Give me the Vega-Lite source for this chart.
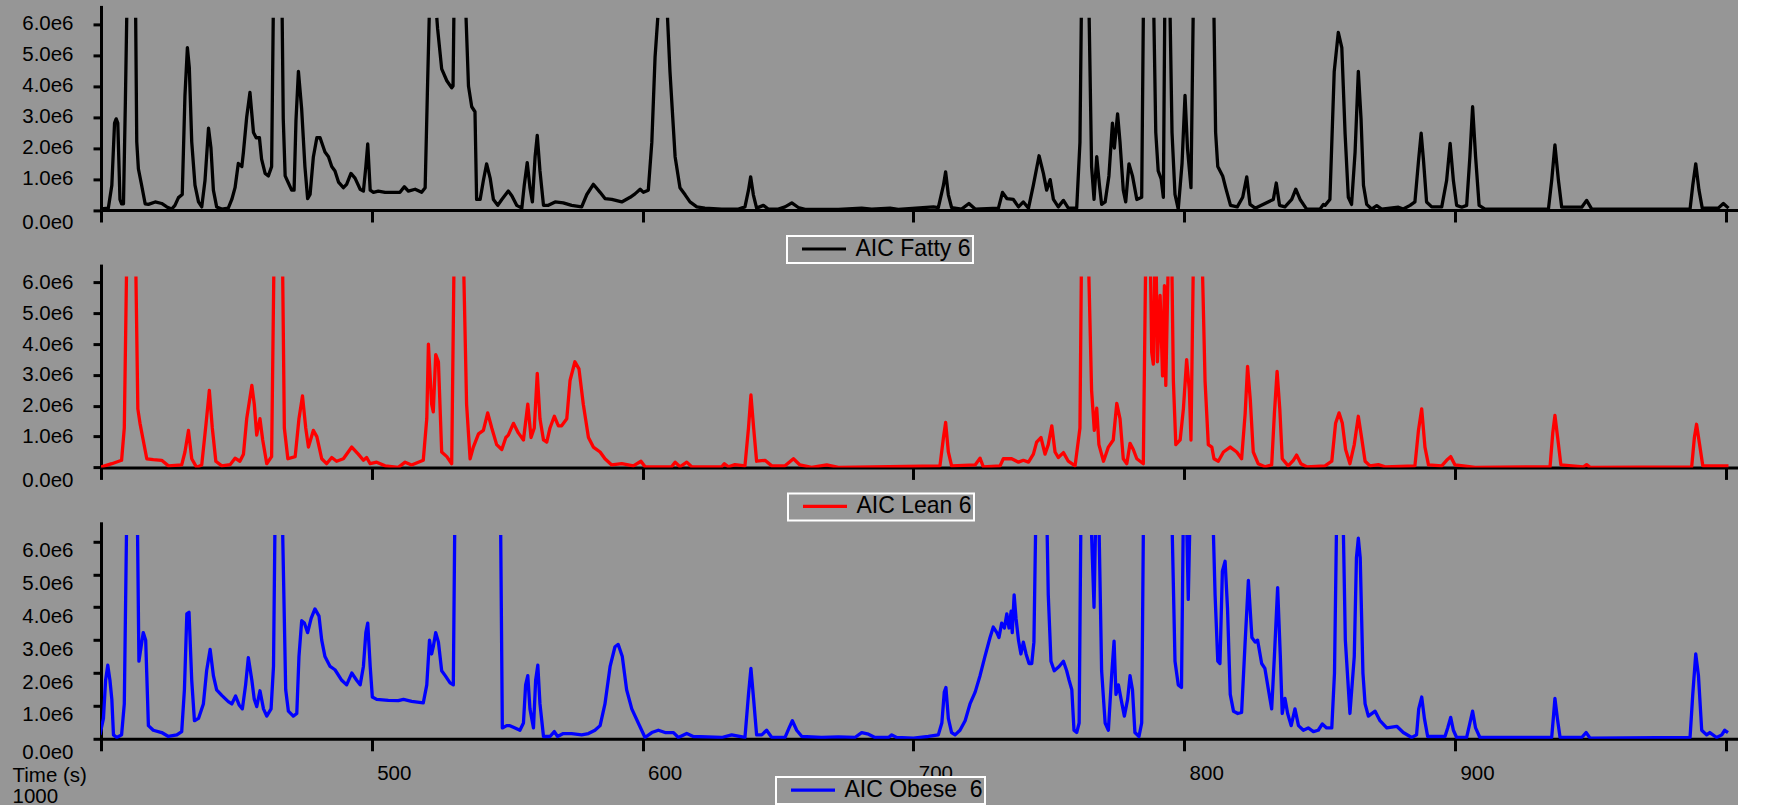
{
"$schema": "https://vega.github.io/schema/vega-lite/v6.json",
"background": "#969696",
"padding": {"left": 12, "top": 5.4, "right": 0, "bottom": 0},
"autosize": {"type": "pad"},
"config": {
  "view": {"stroke": null},
  "axis": {"grid": false, "domainColor": "#000000", "domainWidth": 3, "tickColor": "#000000", "tickWidth": 3, "labelColor": "#000000", "labelFont": "Liberation Sans", "labelFontSize": 20.5, "titleColor": "#000000", "titleFont": "Liberation Sans", "titleFontSize": 20.5, "titleFontWeight": "normal"},
  "legend": {"orient": "none", "title": null, "symbolType": "M-4.4,0H4.4", "symbolStrokeWidth": 3.2, "symbolSize": 100, "labelFont": "Liberation Sans", "labelFontSize": 23, "labelColor": "#000000", "strokeColor": "#ffffff", "strokeWidth": 2, "fillColor": "#969696", "padding": 1.5, "symbolOffset": 24, "labelOffset": 20, "cornerRadius": 0}
},
"datasets": {
"fatty": [
{"t":399.6,"v":0.03e6},{"t":402.7,"v":0.06e6},{"t":404,"v":0.8e6},{"t":405,"v":2.8e6},{"t":405.6,"v":2.94e6},{"t":406.2,"v":2.8e6},{"t":407,"v":0.34e6},{"t":407.6,"v":0.2e6},{"t":408.3,"v":0.2e6},{"t":409.0,"v":3.5e6},{"t":409.5,"v":6.2e6},{"t":409.8,"v":null},{"t":412.8,"v":6.2e6},{"t":413.2,"v":2.2e6},{"t":413.8,"v":1.33e6},{"t":415,"v":0.8e6},{"t":416.3,"v":0.2e6},{"t":417.5,"v":0.18e6},{"t":420,"v":0.26e6},{"t":422.4,"v":0.21e6},{"t":424.3,"v":0.1e6},{"t":426.1,"v":0.03e6},{"t":427.3,"v":0.15e6},{"t":428.6,"v":0.4e6},{"t":430,"v":0.5e6},{"t":431,"v":3.7e6},{"t":431.9,"v":5.24e6},{"t":432.6,"v":4.6e6},{"t":433.5,"v":2.2e6},{"t":434.7,"v":0.8e6},{"t":436,"v":0.26e6},{"t":437.2,"v":0.1e6},{"t":438.4,"v":0.95e6},{"t":439.7,"v":2.64e6},{"t":440.6,"v":2.0e6},{"t":441.5,"v":0.64e6},{"t":442.7,"v":0.1e6},{"t":444.6,"v":0.03e6},{"t":447,"v":0.06e6},{"t":448.3,"v":0.34e6},{"t":449.5,"v":0.72e6},{"t":450.7,"v":1.5e6},{"t":452,"v":1.4e6},{"t":452.6,"v":1.87e6},{"t":453.8,"v":3.0e6},{"t":455,"v":3.79e6},{"t":456.3,"v":2.5e6},{"t":457.3,"v":2.33e6},{"t":458.5,"v":2.33e6},{"t":459.3,"v":1.64e6},{"t":460.6,"v":1.18e6},{"t":461.8,"v":1.1e6},{"t":463,"v":1.4e6},{"t":463.6,"v":6.2e6},{"t":464,"v":null},{"t":466.9,"v":6.2e6},{"t":467.3,"v":2.94e6},{"t":468,"v":1.1e6},{"t":469.2,"v":0.87e6},{"t":470.4,"v":0.64e6},{"t":471.3,"v":0.64e6},{"t":472,"v":2.9e6},{"t":472.9,"v":4.47e6},{"t":474.1,"v":3.25e6},{"t":475.3,"v":1.4e6},{"t":476.3,"v":0.37e6},{"t":477.2,"v":0.5e6},{"t":478.4,"v":1.7e6},{"t":479.7,"v":2.33e6},{"t":480.9,"v":2.33e6},{"t":482.7,"v":1.87e6},{"t":484,"v":1.72e6},{"t":485.2,"v":1.4e6},{"t":486.4,"v":1.26e6},{"t":487.7,"v":0.9e6},{"t":489.5,"v":0.72e6},{"t":490.7,"v":0.83e6},{"t":492.3,"v":1.18e6},{"t":493.8,"v":1.03e6},{"t":495.7,"v":0.67e6},{"t":496.9,"v":0.61e6},{"t":497.8,"v":1.4e6},{"t":498.5,"v":2.13e6},{"t":499.4,"v":0.64e6},{"t":500.6,"v":0.57e6},{"t":502.4,"v":0.61e6},{"t":504.9,"v":0.57e6},{"t":508.6,"v":0.57e6},{"t":510.4,"v":0.57e6},{"t":512,"v":0.75e6},{"t":513.5,"v":0.61e6},{"t":516,"v":0.67e6},{"t":518.4,"v":0.57e6},{"t":519.7,"v":0.72e6},{"t":520.5,"v":3.7e6},{"t":521.2,"v":6.2e6},{"t":521.5,"v":null},{"t":524.0,"v":6.2e6},{"t":524.3,"v":5.85e6},{"t":525.8,"v":4.55e6},{"t":527.7,"v":4.17e6},{"t":529.5,"v":3.94e6},{"t":530.0,"v":4.0e6},{"t":530.3,"v":6.2e6},{"t":530.6,"v":null},{"t":534.8,"v":6.2e6},{"t":535.7,"v":4.0e6},{"t":536.9,"v":3.33e6},{"t":538.1,"v":3.17e6},{"t":538.7,"v":0.34e6},{"t":540,"v":0.34e6},{"t":541.2,"v":0.95e6},{"t":542.4,"v":1.49e6},{"t":543.7,"v":1.03e6},{"t":544.9,"v":0.34e6},{"t":546.5,"v":0.15e6},{"t":548,"v":0.34e6},{"t":550.4,"v":0.61e6},{"t":551.7,"v":0.46e6},{"t":553.5,"v":0.15e6},{"t":555.4,"v":0.06e6},{"t":556.3,"v":0.8e6},{"t":557.4,"v":1.53e6},{"t":558.4,"v":0.72e6},{"t":559.3,"v":0.26e6},{"t":560.3,"v":1.72e6},{"t":561.1,"v":2.41e6},{"t":562.1,"v":1.26e6},{"t":563.4,"v":0.15e6},{"t":565.2,"v":0.15e6},{"t":567.7,"v":0.26e6},{"t":570.7,"v":0.23e6},{"t":573.8,"v":0.15e6},{"t":577.5,"v":0.1e6},{"t":579.4,"v":0.5e6},{"t":581.8,"v":0.83e6},{"t":584.3,"v":0.57e6},{"t":586.1,"v":0.37e6},{"t":588.6,"v":0.34e6},{"t":592.3,"v":0.26e6},{"t":595.4,"v":0.41e6},{"t":597.2,"v":0.52e6},{"t":599.1,"v":0.67e6},{"t":600.3,"v":0.57e6},{"t":602.1,"v":0.64e6},{"t":603.4,"v":2.18e6},{"t":604.6,"v":4.93e6},{"t":605.6,"v":6.2e6},{"t":606,"v":null},{"t":609.2,"v":6.2e6},{"t":610.1,"v":4.47e6},{"t":612,"v":1.72e6},{"t":613.8,"v":0.72e6},{"t":615.7,"v":0.49e6},{"t":617.5,"v":0.26e6},{"t":620,"v":0.1e6},{"t":623,"v":0.06e6},{"t":629.2,"v":0.03e6},{"t":635.4,"v":0.03e6},{"t":637.8,"v":0.1e6},{"t":639.1,"v":0.64e6},{"t":639.9,"v":1.07e6},{"t":640.9,"v":0.49e6},{"t":642.1,"v":0.06e6},{"t":644.6,"v":0.15e6},{"t":646.4,"v":0.03e6},{"t":650.1,"v":0.03e6},{"t":652.6,"v":0.1e6},{"t":655.1,"v":0.23e6},{"t":657.5,"v":0.08e6},{"t":660,"v":0.02e6},{"t":672.3,"v":0.02e6},{"t":680.9,"v":0.06e6},{"t":684.6,"v":0.03e6},{"t":691.4,"v":0.06e6},{"t":694.4,"v":0.02e6},{"t":707.4,"v":0.1e6},{"t":709.2,"v":0.08e6},{"t":711.1,"v":0.8e6},{"t":711.9,"v":1.23e6},{"t":712.9,"v":0.49e6},{"t":714.1,"v":0.08e6},{"t":717.8,"v":0.03e6},{"t":720.5,"v":0.21e6},{"t":722.8,"v":0.03e6},{"t":731.4,"v":0.06e6},{"t":732.9,"v":0.57e6},{"t":734.5,"v":0.37e6},{"t":736.9,"v":0.34e6},{"t":738.8,"v":0.1e6},{"t":740.6,"v":0.26e6},{"t":742.5,"v":0.06e6},{"t":744.3,"v":0.8e6},{"t":746.4,"v":1.75e6},{"t":748,"v":1.18e6},{"t":749.2,"v":0.64e6},{"t":750.5,"v":0.98e6},{"t":751.7,"v":0.34e6},{"t":753.5,"v":0.1e6},{"t":755.4,"v":0.31e6},{"t":757.2,"v":0.06e6},{"t":760.3,"v":0.06e6},{"t":761.5,"v":2.18e6},{"t":762.0,"v":6.2e6},{"t":762.3,"v":null},{"t":764.9,"v":6.2e6},{"t":765.8,"v":1.4e6},{"t":766.7,"v":0.34e6},{"t":767.7,"v":1.72e6},{"t":768.7,"v":0.8e6},{"t":769.5,"v":0.18e6},{"t":770.8,"v":0.26e6},{"t":772.2,"v":1.1e6},{"t":773.5,"v":2.8e6},{"t":774.2,"v":2.0e6},{"t":775.4,"v":3.1e6},{"t":776.3,"v":2.18e6},{"t":777.5,"v":0.64e6},{"t":778.4,"v":0.26e6},{"t":779.6,"v":1.49e6},{"t":780.9,"v":1.1e6},{"t":782.5,"v":0.34e6},{"t":784.3,"v":0.41e6},{"t":784.9,"v":6.2e6},{"t":785.3,"v":null},{"t":788.8,"v":6.2e6},{"t":789.5,"v":2.5e6},{"t":790.4,"v":1.26e6},{"t":791.5,"v":1.0e6},{"t":792.3,"v":0.41e6},{"t":792.8,"v":6.2e6},{"t":793.0,"v":null},{"t":794.8,"v":6.2e6},{"t":795.5,"v":2.5e6},{"t":796.6,"v":0.5e6},{"t":797.8,"v":0.03e6},{"t":799.2,"v":1.5e6},{"t":800.3,"v":3.7e6},{"t":801.2,"v":2.0e6},{"t":802.5,"v":0.72e6},{"t":803.3,"v":6.2e6},{"t":803.6,"v":null},{"t":811.0,"v":6.2e6},{"t":811.6,"v":2.5e6},{"t":812.4,"v":1.4e6},{"t":814.2,"v":1.1e6},{"t":815.3,"v":0.72e6},{"t":817.1,"v":0.15e6},{"t":819.6,"v":0.1e6},{"t":821.6,"v":0.41e6},{"t":823.1,"v":1.07e6},{"t":824.3,"v":0.18e6},{"t":826.2,"v":0.06e6},{"t":832.9,"v":0.34e6},{"t":834.0,"v":0.87e6},{"t":835.2,"v":0.15e6},{"t":837.2,"v":0.1e6},{"t":839.7,"v":0.34e6},{"t":841.2,"v":0.67e6},{"t":842.8,"v":0.34e6},{"t":845.2,"v":0.03e6},{"t":850.2,"v":0.03e6},{"t":851.4,"v":0.18e6},{"t":852,"v":0.15e6},{"t":853.8,"v":0.34e6},{"t":855.4,"v":4.47e6},{"t":856.9,"v":5.73e6},{"t":858.2,"v":5.24e6},{"t":859.4,"v":2.48e6},{"t":860.6,"v":0.41e6},{"t":861.8,"v":0.18e6},{"t":863.1,"v":1.87e6},{"t":864.3,"v":4.47e6},{"t":865.3,"v":2.94e6},{"t":866.2,"v":0.8e6},{"t":867.4,"v":0.18e6},{"t":869.2,"v":0.03e6},{"t":871.1,"v":0.14e6},{"t":872.9,"v":0.03e6},{"t":879.1,"v":0.09e6},{"t":880.9,"v":0.03e6},{"t":883.4,"v":0.15e6},{"t":885.2,"v":0.26e6},{"t":886.5,"v":1.56e6},{"t":887.5,"v":2.48e6},{"t":888.4,"v":1.56e6},{"t":889.5,"v":0.26e6},{"t":891.4,"v":0.1e6},{"t":895.1,"v":0.1e6},{"t":896.9,"v":0.95e6},{"t":898.2,"v":2.15e6},{"t":899.4,"v":0.95e6},{"t":900.6,"v":0.15e6},{"t":902.5,"v":0.09e6},{"t":904.3,"v":0.15e6},{"t":905.5,"v":1.72e6},{"t":906.5,"v":3.33e6},{"t":907.6,"v":1.72e6},{"t":908.9,"v":0.15e6},{"t":911.1,"v":0.03e6},{"t":934.5,"v":0.03e6},{"t":935.7,"v":0.95e6},{"t":936.9,"v":2.1e6},{"t":938.2,"v":0.95e6},{"t":939.4,"v":0.09e6},{"t":946.8,"v":0.09e6},{"t":948.6,"v":0.31e6},{"t":950.5,"v":0.03e6},{"t":986.8,"v":0.03e6},{"t":987.8,"v":0.8e6},{"t":988.9,"v":1.49e6},{"t":990.1,"v":0.64e6},{"t":991.3,"v":0.06e6},{"t":997.2,"v":0.06e6},{"t":999.1,"v":0.21e6},{"t":1001,"v":0.06e6}
],
"lean": [
{"t":399.6,"v":0.0},{"t":404,"v":0.12e6},{"t":407.6,"v":0.23e6},{"t":408.6,"v":1.28e6},{"t":409.4,"v":6.2e6},{"t":409.7,"v":null},{"t":412.9,"v":6.2e6},{"t":413.6,"v":1.9e6},{"t":414.4,"v":1.43e6},{"t":415.4,"v":0.97e6},{"t":416.9,"v":0.28e6},{"t":419.3,"v":0.25e6},{"t":422.4,"v":0.23e6},{"t":424.9,"v":0.05e6},{"t":429.8,"v":0.08e6},{"t":431,"v":0.5e6},{"t":432.3,"v":1.2e6},{"t":433.5,"v":0.28e6},{"t":435.3,"v":0.0},{"t":437.2,"v":0.08e6},{"t":438.8,"v":1.43e6},{"t":440,"v":2.5e6},{"t":441.1,"v":1.28e6},{"t":442.4,"v":0.2e6},{"t":444.6,"v":0.05e6},{"t":447.7,"v":0.09e6},{"t":449.5,"v":0.3e6},{"t":451.3,"v":0.2e6},{"t":452.6,"v":0.43e6},{"t":453.8,"v":1.58e6},{"t":455.7,"v":2.66e6},{"t":456.6,"v":2.05e6},{"t":457.5,"v":1.05e6},{"t":458.7,"v":1.58e6},{"t":459.7,"v":0.9e6},{"t":461.2,"v":0.12e6},{"t":463,"v":0.35e6},{"t":463.8,"v":6.2e6},{"t":464.1,"v":null},{"t":467.1,"v":6.2e6},{"t":467.7,"v":1.28e6},{"t":469,"v":0.28e6},{"t":471.7,"v":0.35e6},{"t":473.1,"v":1.58e6},{"t":474.4,"v":2.32e6},{"t":475.6,"v":1.28e6},{"t":476.6,"v":0.66e6},{"t":478.4,"v":1.2e6},{"t":479.7,"v":1.0e6},{"t":481.5,"v":0.28e6},{"t":483.3,"v":0.12e6},{"t":485.2,"v":0.32e6},{"t":487,"v":0.2e6},{"t":489.5,"v":0.28e6},{"t":492.6,"v":0.66e6},{"t":495,"v":0.43e6},{"t":496.9,"v":0.23e6},{"t":498.1,"v":0.32e6},{"t":499.4,"v":0.12e6},{"t":501.8,"v":0.17e6},{"t":504.9,"v":0.05e6},{"t":509.8,"v":0.0},{"t":512.3,"v":0.17e6},{"t":514.7,"v":0.08e6},{"t":519,"v":0.23e6},{"t":520.3,"v":1.58e6},{"t":520.9,"v":4.0e6},{"t":522.1,"v":2.05e6},{"t":522.7,"v":1.8e6},{"t":523.6,"v":3.66e6},{"t":524.6,"v":3.43e6},{"t":525.8,"v":0.5e6},{"t":527.7,"v":0.35e6},{"t":529.5,"v":0.12e6},{"t":530.3,"v":6.2e6},{"t":530.6,"v":null},{"t":534.0,"v":6.2e6},{"t":535,"v":2.05e6},{"t":536.3,"v":0.28e6},{"t":537.5,"v":0.66e6},{"t":539.4,"v":1.09e6},{"t":541.2,"v":1.2e6},{"t":542.8,"v":1.77e6},{"t":544.3,"v":1.28e6},{"t":546.1,"v":0.74e6},{"t":548,"v":0.58e6},{"t":549.5,"v":0.97e6},{"t":550.4,"v":1.05e6},{"t":552.3,"v":1.43e6},{"t":554.1,"v":1.12e6},{"t":556,"v":0.89e6},{"t":557.6,"v":2.05e6},{"t":558.8,"v":0.97e6},{"t":560,"v":1.28e6},{"t":561.1,"v":3.05e6},{"t":562.1,"v":1.58e6},{"t":563.4,"v":0.89e6},{"t":564.6,"v":0.82e6},{"t":565.8,"v":1.28e6},{"t":567.4,"v":1.66e6},{"t":568.9,"v":1.35e6},{"t":570.1,"v":1.35e6},{"t":572,"v":1.58e6},{"t":573.2,"v":2.82e6},{"t":575,"v":3.43e6},{"t":576.5,"v":3.2e6},{"t":578.1,"v":2.05e6},{"t":580,"v":0.97e6},{"t":581.8,"v":0.66e6},{"t":584.3,"v":0.5e6},{"t":586.1,"v":0.28e6},{"t":588.6,"v":0.08e6},{"t":592.3,"v":0.12e6},{"t":596.6,"v":0.05e6},{"t":599.4,"v":0.2e6},{"t":600.9,"v":0.02e6},{"t":610.7,"v":0.02e6},{"t":612,"v":0.17e6},{"t":613.8,"v":0.02e6},{"t":616.3,"v":0.17e6},{"t":618.1,"v":0.02e6},{"t":629.2,"v":0.02e6},{"t":630.2,"v":0.12e6},{"t":631.7,"v":0.02e6},{"t":634.1,"v":0.09e6},{"t":637.8,"v":0.05e6},{"t":639.1,"v":1.28e6},{"t":640,"v":2.35e6},{"t":641,"v":1.28e6},{"t":642.1,"v":0.2e6},{"t":645.2,"v":0.23e6},{"t":647.7,"v":0.05e6},{"t":652.6,"v":0.05e6},{"t":655.7,"v":0.28e6},{"t":658.1,"v":0.08e6},{"t":662.4,"v":0.0},{"t":668,"v":0.08e6},{"t":672.3,"v":0.0},{"t":709.8,"v":0.05e6},{"t":711.1,"v":0.97e6},{"t":711.9,"v":1.46e6},{"t":712.9,"v":0.5e6},{"t":714.1,"v":0.05e6},{"t":722.8,"v":0.08e6},{"t":724.6,"v":0.3e6},{"t":725.8,"v":0.02e6},{"t":732,"v":0.05e6},{"t":733.2,"v":0.28e6},{"t":736.3,"v":0.28e6},{"t":738.8,"v":0.17e6},{"t":740.6,"v":0.23e6},{"t":742.5,"v":0.17e6},{"t":744.3,"v":0.43e6},{"t":745.5,"v":0.82e6},{"t":747.1,"v":0.97e6},{"t":748.6,"v":0.43e6},{"t":749.8,"v":0.74e6},{"t":751.1,"v":1.35e6},{"t":752.3,"v":0.5e6},{"t":753.5,"v":0.32e6},{"t":755.4,"v":0.48e6},{"t":757.2,"v":0.2e6},{"t":759.7,"v":0.05e6},{"t":761.5,"v":1.28e6},{"t":762.0,"v":6.2e6},{"t":762.3,"v":null},{"t":764.8,"v":6.2e6},{"t":765.8,"v":2.5e6},{"t":766.8,"v":1.2e6},{"t":767.7,"v":1.92e6},{"t":768.5,"v":0.74e6},{"t":770.2,"v":0.2e6},{"t":772,"v":0.66e6},{"t":773.8,"v":0.89e6},{"t":775.1,"v":2.08e6},{"t":776.3,"v":1.58e6},{"t":777.5,"v":0.28e6},{"t":778.8,"v":0.12e6},{"t":780,"v":0.78e6},{"t":781.2,"v":0.58e6},{"t":782.5,"v":0.28e6},{"t":784.9,"v":0.12e6},{"t":785.7,"v":6.2e6},{"t":786,"v":null},{"t":787.6,"v":6.2e6},{"t":788,"v":3.74e6},{"t":788.6,"v":3.35e6},{"t":789.1,"v":6.2e6},{"t":789.3,"v":null},{"t":789.7,"v":6.2e6},{"t":790.1,"v":3.43e6},{"t":791.1,"v":5.58e6},{"t":792,"v":2.97e6},{"t":792.7,"v":5.9e6},{"t":793.2,"v":2.66e6},{"t":794.0,"v":6.2e6},{"t":794.3,"v":null},{"t":795.5,"v":6.2e6},{"t":796,"v":2.8e6},{"t":796.9,"v":0.74e6},{"t":798.5,"v":0.89e6},{"t":799.7,"v":1.9e6},{"t":800.9,"v":3.5e6},{"t":801.9,"v":2.5e6},{"t":802.5,"v":0.89e6},{"t":803.3,"v":6.2e6},{"t":803.6,"v":null},{"t":806.8,"v":6.2e6},{"t":807.7,"v":2.8e6},{"t":808.9,"v":0.74e6},{"t":810.2,"v":0.66e6},{"t":811,"v":0.28e6},{"t":812.6,"v":0.2e6},{"t":814.5,"v":0.5e6},{"t":817,"v":0.66e6},{"t":819.4,"v":0.5e6},{"t":821.2,"v":0.28e6},{"t":822.5,"v":1.74e6},{"t":823.4,"v":3.28e6},{"t":824.4,"v":2.2e6},{"t":825.5,"v":0.5e6},{"t":827.3,"v":0.12e6},{"t":829.8,"v":0.02e6},{"t":832.3,"v":0.08e6},{"t":833.3,"v":1.74e6},{"t":834.3,"v":3.12e6},{"t":835.3,"v":1.89e6},{"t":836.2,"v":0.28e6},{"t":838.4,"v":0.05e6},{"t":840.3,"v":0.23e6},{"t":841.5,"v":0.4e6},{"t":843.1,"v":0.12e6},{"t":845.2,"v":0.02e6},{"t":852,"v":0.05e6},{"t":854.5,"v":0.2e6},{"t":855.9,"v":1.43e6},{"t":857.2,"v":1.77e6},{"t":858.4,"v":1.43e6},{"t":859.6,"v":0.58e6},{"t":861.2,"v":0.12e6},{"t":862.8,"v":0.74e6},{"t":864.3,"v":1.66e6},{"t":865.5,"v":0.97e6},{"t":866.8,"v":0.2e6},{"t":868.6,"v":0.05e6},{"t":871.7,"v":0.09e6},{"t":874.2,"v":0.02e6},{"t":885.2,"v":0.05e6},{"t":886.5,"v":1.2e6},{"t":887.7,"v":1.9e6},{"t":888.9,"v":0.66e6},{"t":890.2,"v":0.08e6},{"t":895.1,"v":0.05e6},{"t":896.9,"v":0.23e6},{"t":898.4,"v":0.35e6},{"t":900,"v":0.08e6},{"t":903.1,"v":0.05e6},{"t":907.4,"v":0.0},{"t":935.1,"v":0.02e6},{"t":936.1,"v":1.12e6},{"t":936.9,"v":1.69e6},{"t":937.9,"v":0.97e6},{"t":939.1,"v":0.08e6},{"t":947.4,"v":0.02e6},{"t":948.6,"v":0.09e6},{"t":949.9,"v":0.0},{"t":987.4,"v":0.02e6},{"t":988.4,"v":0.97e6},{"t":989.2,"v":1.4e6},{"t":990.2,"v":0.82e6},{"t":991.5,"v":0.05e6},{"t":999.1,"v":0.05e6},{"t":1001,"v":0.05e6}
],
"obese": [
{"t":399.6,"v":0.12e6},{"t":400.9,"v":0.62e6},{"t":401.7,"v":1.78e6},{"t":402.5,"v":2.24e6},{"t":403.3,"v":1.78e6},{"t":404,"v":1.2e6},{"t":404.6,"v":0.12e6},{"t":405.8,"v":0.04e6},{"t":407.6,"v":0.12e6},{"t":408.6,"v":1.06e6},{"t":409.4,"v":6.2e6},{"t":409.7,"v":null},{"t":413.5,"v":6.2e6},{"t":414,"v":2.36e6},{"t":414.8,"v":2.8e6},{"t":415.6,"v":3.23e6},{"t":416.5,"v":3.0e6},{"t":417.5,"v":0.4e6},{"t":419.3,"v":0.26e6},{"t":422.4,"v":0.19e6},{"t":424.9,"v":0.07e6},{"t":428,"v":0.12e6},{"t":429.8,"v":0.22e6},{"t":430.8,"v":1.49e6},{"t":431.7,"v":3.8e6},{"t":432.5,"v":3.85e6},{"t":433.5,"v":1.78e6},{"t":434.5,"v":0.55e6},{"t":436,"v":0.62e6},{"t":437.8,"v":1.06e6},{"t":439,"v":2.07e6},{"t":440.3,"v":2.72e6},{"t":441.5,"v":1.92e6},{"t":442.7,"v":1.49e6},{"t":444.6,"v":1.32e6},{"t":447,"v":1.13e6},{"t":448.3,"v":1.06e6},{"t":449.7,"v":1.3e6},{"t":451,"v":1.03e6},{"t":452.2,"v":0.91e6},{"t":453.4,"v":1.64e6},{"t":454.4,"v":2.47e6},{"t":455.7,"v":1.78e6},{"t":456.6,"v":1.2e6},{"t":457.5,"v":0.98e6},{"t":458.7,"v":1.46e6},{"t":460,"v":0.91e6},{"t":461.2,"v":0.69e6},{"t":462.8,"v":0.91e6},{"t":463.7,"v":2.2e6},{"t":464.2,"v":6.2e6},{"t":464.5,"v":null},{"t":467.1,"v":6.2e6},{"t":468.2,"v":1.49e6},{"t":469.2,"v":0.84e6},{"t":471,"v":0.69e6},{"t":472.3,"v":0.77e6},{"t":473.1,"v":2.5e6},{"t":474.1,"v":3.59e6},{"t":475.1,"v":3.52e6},{"t":476.3,"v":3.23e6},{"t":477.6,"v":3.66e6},{"t":479,"v":3.95e6},{"t":480.5,"v":3.73e6},{"t":481.5,"v":3.0e6},{"t":482.7,"v":2.5e6},{"t":484.6,"v":2.2e6},{"t":486.4,"v":2.1e6},{"t":488.9,"v":1.78e6},{"t":490.7,"v":1.64e6},{"t":492.6,"v":2.0e6},{"t":494.4,"v":1.78e6},{"t":495.7,"v":1.64e6},{"t":496.9,"v":2.2e6},{"t":497.8,"v":3.23e6},{"t":498.5,"v":3.52e6},{"t":499.4,"v":2.2e6},{"t":500.2,"v":1.27e6},{"t":501.8,"v":1.2e6},{"t":506.1,"v":1.17e6},{"t":509.8,"v":1.16e6},{"t":511.7,"v":1.2e6},{"t":514.7,"v":1.14e6},{"t":519,"v":1.09e6},{"t":520.3,"v":1.64e6},{"t":521.3,"v":3.0e6},{"t":522.1,"v":2.58e6},{"t":522.7,"v":2.8e6},{"t":523.6,"v":3.23e6},{"t":524.6,"v":2.94e6},{"t":525.8,"v":2.07e6},{"t":527.1,"v":1.92e6},{"t":528.9,"v":1.7e6},{"t":530.1,"v":1.64e6},{"t":530.6,"v":6.2e6},{"t":530.9,"v":null},{"t":547.6,"v":6.2e6},{"t":548.2,"v":0.33e6},{"t":549.8,"v":0.4e6},{"t":551,"v":0.4e6},{"t":552.9,"v":0.33e6},{"t":554.7,"v":0.26e6},{"t":556,"v":0.48e6},{"t":556.8,"v":1.64e6},{"t":557.6,"v":1.92e6},{"t":558.4,"v":0.91e6},{"t":559.7,"v":0.33e6},{"t":560.5,"v":1.78e6},{"t":561.3,"v":2.24e6},{"t":562.1,"v":1.06e6},{"t":563.4,"v":0.07e6},{"t":565.8,"v":0.07e6},{"t":567.4,"v":0.22e6},{"t":568.6,"v":0.07e6},{"t":570.7,"v":0.16e6},{"t":573.8,"v":0.16e6},{"t":577.5,"v":0.12e6},{"t":580,"v":0.16e6},{"t":582.4,"v":0.26e6},{"t":584.3,"v":0.4e6},{"t":586.1,"v":1.06e6},{"t":588,"v":2.2e6},{"t":589.8,"v":2.8e6},{"t":591,"v":2.87e6},{"t":592.5,"v":2.5e6},{"t":594.1,"v":1.49e6},{"t":596,"v":0.91e6},{"t":598.4,"v":0.48e6},{"t":600.9,"v":0.04e6},{"t":603.4,"v":0.19e6},{"t":605.8,"v":0.26e6},{"t":608.3,"v":0.19e6},{"t":611.4,"v":0.19e6},{"t":613.2,"v":0.04e6},{"t":616.3,"v":0.16e6},{"t":618.7,"v":0.07e6},{"t":629.2,"v":0.04e6},{"t":632.9,"v":0.12e6},{"t":637.8,"v":0.04e6},{"t":639.1,"v":1.35e6},{"t":640,"v":2.14e6},{"t":641,"v":1.2e6},{"t":642.1,"v":0.12e6},{"t":644,"v":0.12e6},{"t":645.8,"v":0.26e6},{"t":647.7,"v":0.04e6},{"t":652.6,"v":0.04e6},{"t":654.1,"v":0.33e6},{"t":655.3,"v":0.55e6},{"t":656.9,"v":0.26e6},{"t":658.8,"v":0.07e6},{"t":666.1,"v":0.04e6},{"t":672.3,"v":0.06e6},{"t":678.4,"v":0.04e6},{"t":680.9,"v":0.19e6},{"t":683.4,"v":0.14e6},{"t":685.8,"v":0.04e6},{"t":690.8,"v":0.04e6},{"t":692,"v":0.12e6},{"t":693.8,"v":0.04e6},{"t":700,"v":0.02e6},{"t":705.5,"v":0.07e6},{"t":709.2,"v":0.12e6},{"t":710.5,"v":0.48e6},{"t":711.4,"v":1.42e6},{"t":712,"v":1.56e6},{"t":712.9,"v":0.62e6},{"t":714.1,"v":0.19e6},{"t":715.4,"v":0.12e6},{"t":717.2,"v":0.26e6},{"t":719.1,"v":0.55e6},{"t":720.9,"v":1.06e6},{"t":722.8,"v":1.42e6},{"t":724.6,"v":1.92e6},{"t":726.4,"v":2.5e6},{"t":728.3,"v":3.08e6},{"t":729.5,"v":3.4e6},{"t":730.8,"v":3.23e6},{"t":731.6,"v":3.08e6},{"t":732.6,"v":3.52e6},{"t":733.6,"v":3.37e6},{"t":734.5,"v":3.8e6},{"t":735.3,"v":3.37e6},{"t":736.1,"v":3.88e6},{"t":736.5,"v":3.23e6},{"t":737.2,"v":4.38e6},{"t":737.9,"v":3.66e6},{"t":738.8,"v":3.0e6},{"t":739.7,"v":2.58e6},{"t":740.6,"v":2.94e6},{"t":741.6,"v":2.58e6},{"t":742.7,"v":2.29e6},{"t":743.7,"v":2.29e6},{"t":744.5,"v":2.94e6},{"t":745.1,"v":6.2e6},{"t":745.4,"v":null},{"t":749.4,"v":6.2e6},{"t":749.8,"v":4.38e6},{"t":750.8,"v":2.36e6},{"t":752,"v":2.07e6},{"t":753.8,"v":2.2e6},{"t":755.4,"v":2.36e6},{"t":756.6,"v":2.07e6},{"t":757.5,"v":1.78e6},{"t":758.5,"v":1.49e6},{"t":759.3,"v":0.26e6},{"t":760.3,"v":0.19e6},{"t":761.2,"v":0.48e6},{"t":761.8,"v":6.2e6},{"t":762.1,"v":null},{"t":765.8,"v":6.2e6},{"t":766.7,"v":4.0e6},{"t":767.2,"v":6.2e6},{"t":767.5,"v":null},{"t":768.6,"v":6.2e6},{"t":769.5,"v":2.07e6},{"t":770.8,"v":0.48e6},{"t":772,"v":0.26e6},{"t":773.2,"v":1.92e6},{"t":774.1,"v":2.97e6},{"t":774.8,"v":1.35e6},{"t":775.7,"v":1.64e6},{"t":776.7,"v":1.2e6},{"t":777.9,"v":0.69e6},{"t":779.1,"v":1.2e6},{"t":780,"v":1.92e6},{"t":780.9,"v":1.49e6},{"t":781.8,"v":0.19e6},{"t":783.3,"v":0.07e6},{"t":784.3,"v":0.48e6},{"t":784.9,"v":6.2e6},{"t":785.2,"v":null},{"t":795.6,"v":6.2e6},{"t":796.6,"v":2.36e6},{"t":797.8,"v":1.64e6},{"t":799,"v":1.56e6},{"t":799.6,"v":6.2e6},{"t":799.9,"v":null},{"t":801.0,"v":6.2e6},{"t":801.5,"v":4.24e6},{"t":802.0,"v":6.2e6},{"t":802.3,"v":null},{"t":810.8,"v":6.2e6},{"t":811.4,"v":4.38e6},{"t":812.4,"v":2.36e6},{"t":813.2,"v":2.29e6},{"t":814.1,"v":5.1e6},{"t":815.1,"v":5.4e6},{"t":816,"v":3.95e6},{"t":817,"v":1.35e6},{"t":818.2,"v":0.84e6},{"t":819.8,"v":0.77e6},{"t":821.2,"v":0.8e6},{"t":822.5,"v":2.94e6},{"t":823.7,"v":4.82e6},{"t":825,"v":3.08e6},{"t":826.2,"v":2.94e6},{"t":827.1,"v":3.0e6},{"t":828.6,"v":2.29e6},{"t":829.8,"v":2.14e6},{"t":831.1,"v":1.49e6},{"t":832.3,"v":0.91e6},{"t":833.3,"v":2.5e6},{"t":834.5,"v":4.6e6},{"t":835.5,"v":2.5e6},{"t":836.2,"v":0.77e6},{"t":837.2,"v":1.23e6},{"t":838.2,"v":0.77e6},{"t":839.5,"v":0.4e6},{"t":840.9,"v":0.91e6},{"t":842.2,"v":0.4e6},{"t":844,"v":0.26e6},{"t":845.8,"v":0.33e6},{"t":847.7,"v":0.22e6},{"t":849.5,"v":0.26e6},{"t":851,"v":0.45e6},{"t":852.6,"v":0.33e6},{"t":854.5,"v":0.33e6},{"t":855.5,"v":2.0e6},{"t":856.2,"v":6.2e6},{"t":856.5,"v":null},{"t":858.8,"v":6.2e6},{"t":859.5,"v":3.0e6},{"t":861.2,"v":0.77e6},{"t":862.8,"v":2.5e6},{"t":863.6,"v":5.5e6},{"t":864.3,"v":6.1e6},{"t":865.0,"v":5.5e6},{"t":866.0,"v":2.0e6},{"t":866.8,"v":1.06e6},{"t":868,"v":0.69e6},{"t":870.5,"v":0.84e6},{"t":872.3,"v":0.55e6},{"t":874.8,"v":0.33e6},{"t":878.5,"v":0.38e6},{"t":880.9,"v":0.19e6},{"t":884,"v":0.04e6},{"t":885.8,"v":0.12e6},{"t":886.6,"v":0.91e6},{"t":887.7,"v":1.27e6},{"t":888.7,"v":0.62e6},{"t":889.9,"v":0.07e6},{"t":896.3,"v":0.07e6},{"t":897.3,"v":0.33e6},{"t":898.4,"v":0.65e6},{"t":899.4,"v":0.26e6},{"t":900.6,"v":0.04e6},{"t":904.3,"v":0.04e6},{"t":905.5,"v":0.48e6},{"t":906.5,"v":0.84e6},{"t":907.6,"v":0.33e6},{"t":909.2,"v":0.04e6},{"t":935.7,"v":0.04e6},{"t":936.3,"v":0.62e6},{"t":936.9,"v":1.23e6},{"t":937.8,"v":0.62e6},{"t":938.8,"v":0.04e6},{"t":946.8,"v":0.04e6},{"t":948.4,"v":0.19e6},{"t":949.9,"v":0.02e6},{"t":986.8,"v":0.04e6},{"t":987.8,"v":1.35e6},{"t":988.9,"v":2.58e6},{"t":989.9,"v":1.92e6},{"t":991.1,"v":0.26e6},{"t":992.9,"v":0.12e6},{"t":994.1,"v":0.19e6},{"t":996.6,"v":0.04e6},{"t":998.5,"v":0.12e6},{"t":999.6,"v":0.26e6},{"t":1000.8,"v":0.19e6}
]
},
"vconcat": [
{
 "width": 1637, "height": 204.6,
 "data": {"name": "fatty"},
 "mark": {"type": "line", "strokeWidth": 3.3, "clip": true, "strokeJoin": "round", "invalid": "break-paths-filter-domains"},
 "encoding": {
  "x": {"field": "t", "type": "quantitative", "scale": {"domain": [400, 1004.5], "nice": false, "zero": false}, "axis": {"values": [400,500,600,700,800,900,1000], "labels": false, "title": null, "tickSize": 12}},
  "y": {"field": "v", "type": "quantitative", "scale": {"domain": [0, 6600000], "nice": false}, "axis": {"values": [0,1000000,2000000,3000000,4000000,5000000,6000000], "title": null, "tickSize": 8, "labelPadding": 20, "labelExpr": "datum.value == 0 ? '0.0e0' : format(datum.value / 1000000, '.1f') + 'e6'", "labelOffset": {"condition": {"test": "datum.value == 0", "value": 13}, "value": 0}}},
  "color": {"datum": "AIC Fatty 6", "scale": {"range": ["#000000"]}, "legend": {"legendX": 686, "legendY": 230.6, "labelExpr": "datum.label + '\u2002'"}}
 }
},
{
 "width": 1637, "height": 203.3,
 "data": {"name": "lean"},
 "mark": {"type": "line", "strokeWidth": 3.3, "clip": true, "strokeJoin": "round", "invalid": "break-paths-filter-domains"},
 "encoding": {
  "x": {"field": "t", "type": "quantitative", "scale": {"domain": [400, 1004.5], "nice": false, "zero": false}, "axis": {"values": [400,500,600,700,800,900,1000], "labels": false, "title": null, "tickSize": 12}},
  "y": {"field": "v", "type": "quantitative", "scale": {"domain": [0, 6600000], "nice": false}, "axis": {"values": [0,1000000,2000000,3000000,4000000,5000000,6000000], "title": null, "tickSize": 8, "labelPadding": 20, "labelExpr": "datum.value == 0 ? '0.0e0' : format(datum.value / 1000000, '.1f') + 'e6'", "labelOffset": {"condition": {"test": "datum.value == 0", "value": 13}, "value": 0}}},
  "color": {"datum": "AIC Lean 6", "scale": {"range": ["#ff0000"]}, "legend": {"legendX": 687, "legendY": 229.3, "labelExpr": "datum.label + '\u2002'"}}
 }
},
{
 "width": 1637, "height": 217,
 "data": {"name": "obese"},
 "mark": {"type": "line", "strokeWidth": 3.3, "clip": true, "strokeJoin": "round", "invalid": "break-paths-filter-domains"},
 "encoding": {
  "x": {"field": "t", "type": "quantitative", "scale": {"domain": [400, 1004.5], "nice": false, "zero": false}, "axis": {"values": [400,500,600,700,800,900,1000], "title": ["Time (s)", "1000"], "titleAlign": "left", "titleBaseline": "top", "titleX": -89, "titleY": 27, "titleLineHeight": 21, "tickSize": 12, "labelPadding": 13, "labelOffset": 22, "labelExpr": "datum.value == 400 || datum.value == 1000 ? '' : datum.label"}},
  "y": {"field": "v", "type": "quantitative", "scale": {"domain": [0, 6600000], "nice": false}, "axis": {"values": [0,1000000,2000000,3000000,4000000,5000000,6000000], "title": null, "tickSize": 8, "labelPadding": 20, "labelExpr": "datum.value == 0 ? '0.0e0' : format(datum.value / 1000000, '.1f') + 'e6'", "labelOffset": {"condition": {"test": "datum.value == 0", "value": 14}, "value": 9}}},
  "color": {"datum": "AIC Obese \u00a06", "scale": {"range": ["#0000ff"]}, "legend": {"legendX": 675, "legendY": 255.3, "labelExpr": "datum.label + '\u2002'"}}
 }
}
],
"spacing": 53.7,
"bounds": "flush",
"resolve": {"scale": {"color": "independent"}, "legend": {"color": "independent"}}
}
